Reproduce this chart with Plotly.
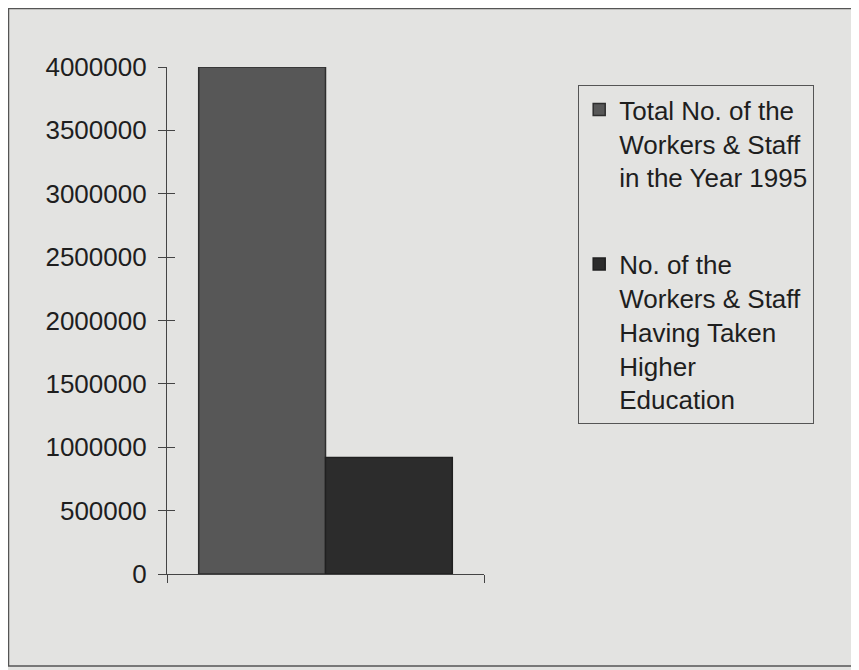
import plotly.graph_objects as go

# ---- data ----
categories = ["1995"]
series_names = [
    "Total No. of the<br>Workers & Staff<br>in the Year 1995",
    "No. of the<br>Workers & Staff<br>Having Taken<br>Higher<br>Education",
]
total_workers = [4000000]
higher_edu = [920000]
y_ticks = [0, 500000, 1000000, 1500000, 2000000, 2500000, 3000000, 3500000, 4000000]

BG = "#e3e3e1"
FONT = "Liberation Sans, Arial, sans-serif"

OFF = 8  # browser body margin offset
W, H = 859 - OFF, 670 - OFF
L, R, T, B = 167 - OFF, 484 - OFF, 67 - OFF, 574 - OFF
pw, ph = R - L, B - T

def px(xs):
    return (xs - OFF - L) / pw

def py(ys):
    return (B - (ys - OFF)) / ph

fig = go.Figure()
fig.add_trace(go.Bar(
    x=[0], y=total_workers, name=series_names[0], legendgroup="a",
    marker=dict(color="#575757", line=dict(color="#2e2e2e", width=1.5)),
))
fig.add_trace(go.Bar(
    x=[0], y=higher_edu, name=series_names[1], legendgroup="b",
    marker=dict(color="#2c2c2c", line=dict(color="#202020", width=1.5)),
))

axis_common = dict(showgrid=False, zeroline=False)
fig.update_layout(
    width=W, height=H,
    margin=dict(l=L, r=W - R, t=T, b=H - B, pad=0),
    paper_bgcolor=BG, plot_bgcolor=BG,
    font=dict(family=FONT, size=26, color="#1e1e1e"),
    barmode="group", bargap=0.2, bargroupgap=0,
    xaxis=dict(range=[-0.5, 0.5], tickvals=[-0.5, 0.5], showticklabels=False,
               ticks="outside", ticklen=8, tickcolor="#444", tickwidth=1.2,
               showline=True, linecolor="#444", linewidth=1.2, **axis_common),
    yaxis=dict(range=[0, 4000000], tickvals=y_ticks, tickformat="d",
               ticks="outside", ticklen=8, tickcolor="#444", tickwidth=1.2,
               showline=True, linecolor="#444", linewidth=1.2,
               ticklabelstandoff=6, **axis_common),
    xaxis2=dict(overlaying="x", range=[-0.5, 0.5], tickvals=[-0.5, 0.5],
                showticklabels=False, ticks="inside", ticklen=8,
                tickcolor="#444", tickwidth=1.2, showline=False, **axis_common),
    yaxis2=dict(overlaying="y", range=[0, 4000000], tickvals=y_ticks,
                showticklabels=False, ticks="inside", ticklen=8,
                tickcolor="#444", tickwidth=1.2, showline=False, **axis_common),
    legend=dict(x=px(578), y=py(85), xanchor="left", yanchor="top",
                bgcolor=BG, bordercolor="#555", borderwidth=1.2,
                font=dict(family=FONT, size=26, color="#1e1e1e"),
                tracegroupgap=50, itemwidth=30, traceorder="grouped",
                valign="top"),
    showlegend=True,
)
# invisible helper trace so overlay axes render
fig.add_trace(go.Scatter(x=[None], y=[None], xaxis="x2", yaxis="y2",
                         showlegend=False, hoverinfo="skip"))

# outer chart frame
fig.add_shape(type="rect", xref="paper", yref="paper",
              x0=px(8.5), x1=px(880), y0=py(666), y1=py(8.5),
              line=dict(color="#555", width=1.5), layer="below")

fig.write_html("out.html")
